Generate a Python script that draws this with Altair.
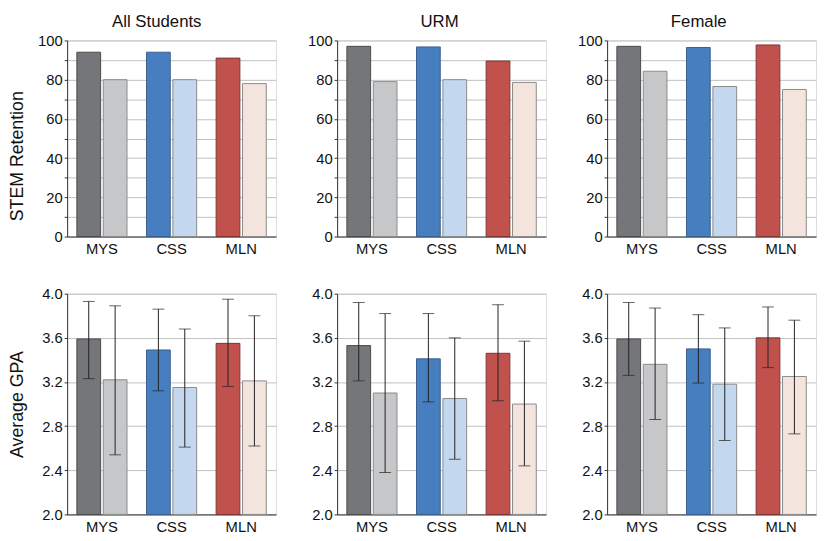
import altair as alt
import pandas as pd

panels = ["All Students", "URM", "Female"]
groups = ["MYS", "CSS", "MLN"]
series = ["Program", "Comparison"]

# STEM retention (%), order: MYS prog, MYS comp, CSS prog, CSS comp, MLN prog, MLN comp
ret_all = [94, 80, 94, 80, 91, 78]
ret_urm = [97, 79, 96.7, 80, 89.5, 78.6]
ret_female = [97, 84.3, 96.4, 76.5, 97.7, 75]

# Average GPA with error bar ends
gpa_all = [3.59, 3.22, 3.49, 3.15, 3.55, 3.21]
gpa_all_hi = [3.93, 3.89, 3.86, 3.68, 3.95, 3.80]
gpa_all_lo = [3.23, 2.54, 3.12, 2.61, 3.16, 2.62]

gpa_urm = [3.53, 3.10, 3.41, 3.05, 3.46, 3.00]
gpa_urm_hi = [3.92, 3.82, 3.82, 3.60, 3.90, 3.57]
gpa_urm_lo = [3.21, 2.38, 3.02, 2.50, 3.03, 2.44]

gpa_female = [3.59, 3.36, 3.50, 3.18, 3.60, 3.25]
gpa_female_hi = [3.92, 3.87, 3.81, 3.69, 3.88, 3.76]
gpa_female_lo = [3.26, 2.86, 3.19, 2.67, 3.33, 2.73]

fill_colors = ["#75767a", "#c6c7c9", "#477ec0", "#c3d7ee", "#c0514d", "#f3e4de"]
stroke_colors = ["#4a4a4a", "#8a8a8a", "#3a5f8f", "#8a8a8a", "#7e3633", "#8a8a8a"]
title_dx = [-15, -2, -13]

keys = [f"{g}|{s}" for g in groups for s in series]

FONT = "Liberation Sans"
W = 212
BAR_HALF = 12  # half of one bar's width, to centre error bars on the bars


def frame(values, hi=None, lo=None):
    rows = []
    i = 0
    for g in groups:
        for s in series:
            r = {"group": g, "series": s, "key": f"{g}|{s}", "value": values[i]}
            if hi is not None:
                r["hi"] = hi[i]
                r["lo"] = lo[i]
            rows.append(r)
            i += 1
    return pd.DataFrame(rows)


def panel(df, kind, col, title=None):
    first = col == 0
    if kind == "ret":
        dom = [0, 100]
        vals = list(range(0, 101, 10))
        label_expr = "datum.value % 20 == 0 ? datum.label : ''"
        fmt = "d"
        ytitle = "STEM Retention"
        height = 199
        base_val = 0
        title_y = 117
    else:
        dom = [2.0, 4.0]
        vals = [round(2.0 + 0.2 * k, 1) for k in range(11)]
        label_expr = "round(datum.value * 10) % 4 == 0 ? datum.label : ''"
        fmt = ".1f"
        ytitle = "Average GPA"
        height = 224
        base_val = 2.0
        title_y = 112

    yaxis_kwargs = dict(
        values=vals, labelExpr=label_expr, format=fmt, grid=True,
        gridColor="#c0c0c0", gridWidth=1, domainColor="#333333",
        tickColor="#333333", tickSize=3, labelFontSize=15,
        labelColor="#111111", labelFont=FONT, minExtent=32, maxExtent=32,
        labelPadding=2,
    )
    if first:
        yaxis_kwargs.update(title=ytitle, titleFont=FONT, titleFontSize=18,
                            titleFontWeight="normal", titleColor="#111111",
                            titlePadding=9, titleY=title_y)
    else:
        yaxis_kwargs.update(title=None)

    x = alt.X("group:N", sort=groups,
              scale=alt.Scale(paddingInner=0.28, paddingOuter=0.14),
              axis=alt.Axis(title=None, labelAngle=0, ticks=False,
                            domainColor="#333333", labelFont=FONT,
                            labelFontSize=15, labelColor="#111111",
                            labelPadding=5, grid=False))
    xo = alt.XOffset("series:N", sort=series,
                     scale=alt.Scale(paddingInner=0.1, paddingOuter=0))
    y = alt.Y("value:Q", scale=alt.Scale(domain=dom, nice=False, zero=False),
              axis=alt.Axis(**yaxis_kwargs))

    bars = alt.Chart(df).mark_bar(strokeWidth=1).encode(
        x=x, xOffset=xo, y=y, y2=alt.datum(base_val),
        color=alt.Color("key:N", scale=alt.Scale(domain=keys, range=fill_colors), legend=None),
        stroke=alt.Stroke("key:N", scale=alt.Scale(domain=keys, range=stroke_colors), legend=None),
    )
    layers = [bars]
    if kind == "gpa":
        xo_c = alt.XOffset("series:N", sort=series)
        rule = alt.Chart(df).mark_rule(color="#222222", strokeWidth=1, xOffset=BAR_HALF).encode(
            x=alt.X("group:N", sort=groups), xOffset=xo_c,
            y=alt.Y("lo:Q"), y2="hi:Q")
        cap_hi = alt.Chart(df).mark_tick(color="#222222", thickness=1, size=12, xOffset=BAR_HALF).encode(
            x=alt.X("group:N", sort=groups), xOffset=xo_c,
            y=alt.Y("hi:Q"))
        cap_lo = alt.Chart(df).mark_tick(color="#222222", thickness=1, size=12, xOffset=BAR_HALF).encode(
            x=alt.X("group:N", sort=groups), xOffset=xo_c,
            y=alt.Y("lo:Q"))
        layers += [rule, cap_hi, cap_lo]

    props = dict(width=W, height=height)
    if title is not None:
        props["title"] = alt.TitleParams(text=title, font=FONT, fontSize=17,
                                         fontWeight="normal", color="#111111",
                                         anchor="middle", frame="group",
                                         offset=3, dx=title_dx[col])
    return alt.layer(*layers).properties(**props)


ret_data = [ret_all, ret_urm, ret_female]
gpa_data = [(gpa_all, gpa_all_hi, gpa_all_lo),
            (gpa_urm, gpa_urm_hi, gpa_urm_lo),
            (gpa_female, gpa_female_hi, gpa_female_lo)]

top = alt.hconcat(*[panel(frame(ret_data[i]), "ret", i, panels[i]) for i in range(3)], spacing=28)
bottom = alt.hconcat(*[panel(frame(*gpa_data[i]), "gpa", i) for i in range(3)], spacing=28)

chart = alt.vconcat(top, bottom, spacing=29).properties(
    padding={"left": 0, "top": 0, "right": 0, "bottom": 0}
).configure_view(stroke=None).configure(font=FONT)

chart.save("out.html", embed_options={"renderer": "svg", "actions": False})
